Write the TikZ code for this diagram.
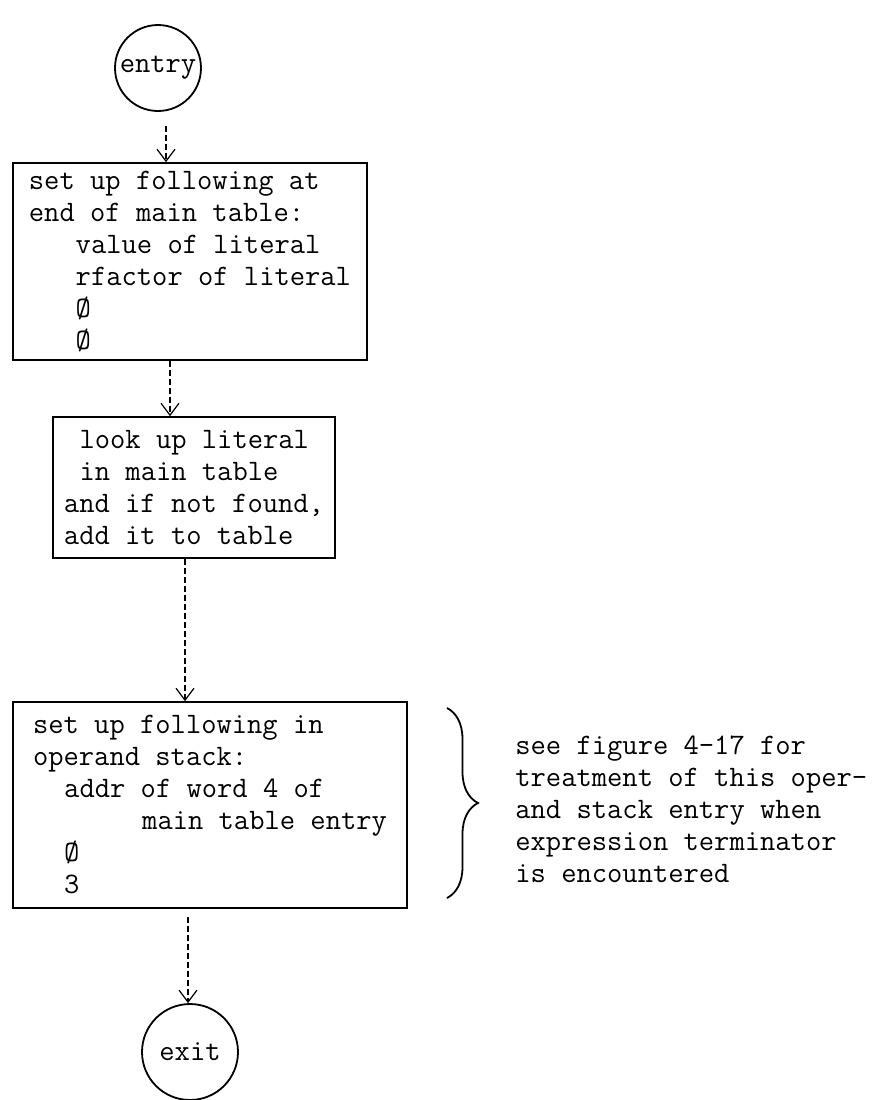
\documentclass[tikz,border=0pt]{standalone}
\usepackage{fontspec}
\usetikzlibrary{arrows.meta,decorations.pathreplacing}
\newcommand{\ind}[1]{\hspace*{#1\dimexpr0.525em\relax}}
\tikzset{
  typed/.style={font=\ttfamily\fontsize{14.85}{16}\selectfont},
  stepbox/.style={draw, line width=0.8pt, align=left, inner ysep=0pt, typed},
  term/.style={draw, circle, line width=0.9pt, inner sep=0pt, typed},
  flow/.style={line width=0.6pt, dash pattern=on 3pt off 1.5pt, -{Straight Barb[length=6pt,width=9pt]}},
  note/.style={align=left, inner sep=0pt, typed},
  curly/.style={decorate, decoration={brace, amplitude=15.5pt}, line width=0.9pt}
}

\begin{document}
\begin{tikzpicture}[x=0.5pt, y=-0.5pt]
\useasboundingbox (0,0) rectangle (891,1100);
\node[term, minimum size=43pt] (entry) at (158,68) {entry};
\node[stepbox, minimum width=177pt, minimum height=98.5pt, inner xsep=5pt] (setup) at (190,261.5) {set up following at\\
end of main table:\\
\ind{3}value of literal\\
\ind{3}rfactor of literal\\
\ind{3}Ø\\
\ind{3}Ø};
\node[stepbox, minimum width=141pt, minimum height=70.5pt, inner xsep=4.5pt] (lookup) at (194,487.5) {\ind{1}look up literal\\
\ind{1}in main table\\
and if not found,\\
add it to table};
\node[stepbox, minimum width=197pt, minimum height=103pt, inner xsep=9pt] (stack) at (210,805) {set up following in\\
operand stack:\\
\ind{2}addr of word 4 of\\
\ind{7}main table entry\\
\ind{2}Ø\\
\ind{2}3};
\node[term, minimum size=48pt] (exit) at (190,1052) {exit};
\node[note, anchor=west] (remark) at (515,809) {see figure 4-17 for\\
treatment of this oper-\\
and stack entry when\\
expression terminator\\
is encountered};
	\draw[flow] ([xshift=4pt,yshift=-7pt]entry.south) -- ([xshift=4pt]entry.south |- setup.north);
	\draw[flow] ([xshift=-10pt]setup.south) -- ([xshift=-10pt]setup.south |- lookup.north);
	\draw[flow] ([xshift=-4.5pt]lookup.south) -- ([xshift=-4.5pt]lookup.south |- stack.north);
	\draw[flow] ([xshift=-11pt,yshift=-4pt]stack.south) -- ([xshift=-11pt]stack.south |- exit.north);
	\draw[curly] (447,708) -- (447,898);
\end{tikzpicture}
\end{document}
